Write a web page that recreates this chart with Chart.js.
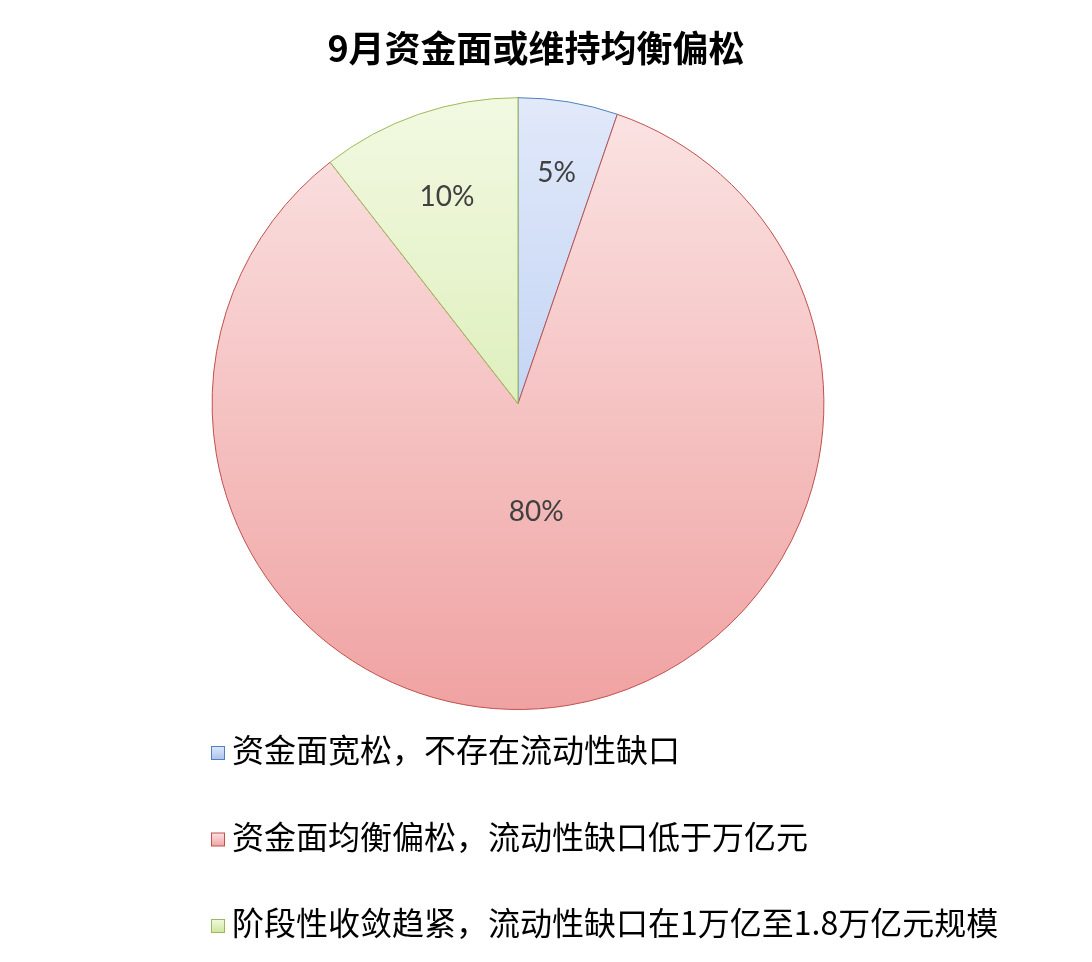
<!DOCTYPE html>
<html>
<head>
<meta charset="utf-8">
<script src="https://cdn.jsdelivr.net/npm/chart.js@4"></script>
<style>
  body { margin: 0; background: #fff; }
</style>
</head>
<body>
<canvas id="pieChart" width="1092" height="962"></canvas>
<script>
var chartTitle = '9月资金面或维持均衡偏松';
var categories = [
    '资金面宽松，不存在流动性缺口',
    '资金面均衡偏松，流动性缺口低于万亿元',
    '阶段性收敛趋紧，流动性缺口在1万亿至1.8万亿元规模'
];
var shares = [5, 80, 10];

// slice styling (gradient top -> bottom, outline)
var topColors = ['#e1e9fa', '#fbe4e4', '#f2f9e2'];
var bottomColors = ['#a9c1ef', '#f0a2a2', '#cce699'];
var lineColors = ['#4f81bd', '#c0504d', '#9bbb59'];
// how far out from the centre each percentage sits (fraction of radius)
var labelRadius = [0.765, 0.36, 0.715];

function sliceFill(chart, i) {
    var area = chart.chartArea;
    if (!area) return topColors[i];
    var g = chart.ctx.createLinearGradient(0, area.top, 0, area.bottom);
    g.addColorStop(0, topColors[i]);
    g.addColorStop(1, bottomColors[i]);
    return g;
}

var sliceLabels = {
    id: 'sliceLabels',
    afterLayout: function (chart) {
        // title in the picture sits a little right of the pie centre
        chart.titleBlock.left += 18;
        chart.titleBlock.right += 18;
    },
    afterDatasetsDraw: function (chart) {
        var ctx = chart.ctx;
        var meta = chart.getDatasetMeta(0);
        ctx.save();
        ctx.font = '28px Lato';
        ctx.fillStyle = '#404040';
        ctx.textAlign = 'center';
        ctx.textBaseline = 'middle';
        meta.data.forEach(function (arc, i) {
            var p = arc.getProps(['x', 'y', 'startAngle', 'endAngle', 'outerRadius']);
            var mid = (p.startAngle + p.endAngle) / 2;
            var r = p.outerRadius * labelRadius[i];
            ctx.fillText(shares[i] + '%', p.x + Math.cos(mid) * r, p.y + Math.sin(mid) * r);
        });
        ctx.restore();
    },
    afterDraw: function (chart) {
        var ctx = chart.ctx;
        var y0 = chart.chartArea.bottom + 40;
        ctx.save();
        ctx.font = '32px "Noto Sans CJK SC"';
        ctx.textBaseline = 'middle';
        categories.forEach(function (label, i) {
            var y = y0 + i * 86.5;
            var g = ctx.createLinearGradient(0, y - 4, 0, y + 10);
            g.addColorStop(0, topColors[i]);
            g.addColorStop(1, bottomColors[i]);
            ctx.fillStyle = g;
            ctx.fillRect(211.5, y - 3.5, 13, 13);
            ctx.strokeStyle = lineColors[i];
            ctx.lineWidth = 1;
            ctx.strokeRect(211.5, y - 3.5, 13, 13);
            ctx.fillStyle = '#000';
            ctx.fillText(label, 232, y);
        });
        ctx.restore();
    }
};

var ctx = document.getElementById('pieChart').getContext('2d');
var myChart = new Chart(ctx, {
    type: 'pie',
    data: {
        labels: categories,
        datasets: [{
            data: shares,
            backgroundColor: function (c) { return sliceFill(c.chart, c.dataIndex); },
            borderColor: lineColors,
            borderWidth: 1
        }]
    },
    options: {
        responsive: false,
        animation: false,
        devicePixelRatio: 1,
        layout: { padding: { left: 0, right: 56, top: 0, bottom: 252 } },
        plugins: {
            legend: { display: false },
            tooltip: { enabled: false },
            title: {
                display: true,
                text: chartTitle,
                color: '#000',
                font: { family: '"Noto Sans CJK SC"', size: 36, weight: 'bold' },
                padding: { top: 27, bottom: 27 }
            }
        }
    },
    plugins: [sliceLabels]
});
</script>
</body>
</html>
